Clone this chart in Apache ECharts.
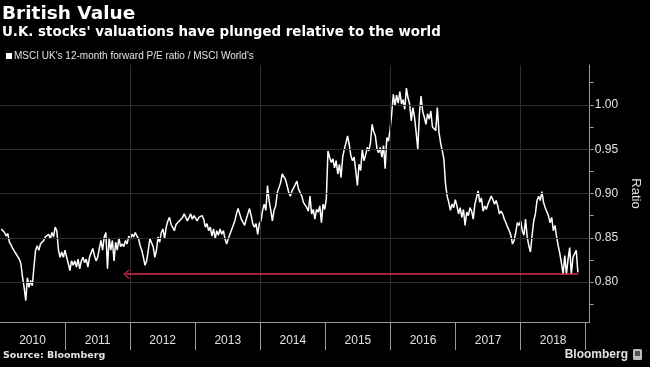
<!DOCTYPE html>
<html>
<head>
<meta charset="utf-8">
<script src="https://cdn.jsdelivr.net/npm/echarts@6/dist/echarts.min.js"></script>
<style>
html,body{margin:0;padding:0;background:#000;}
#c{width:650px;height:367px;}
</style>
</head>
<body>
<div id="c"></div>
<script>
// ---- data ----
const titleText = 'British Value';
const subtitleText = "U.K. stocks' valuations have plunged relative to the world";
const legendText = "MSCI UK's 12-month forward P/E ratio / MSCI World's";
const sourceText = 'Source: Bloomberg';
const axisName = 'Ratio';

const startDate = '2010-01-08';
const endDate = '2018-11-18';

const yearLabels = ['2010','2011','2012','2013','2014','2015','2016','2017','2018'];
const yearBoundaries = [2011,2012,2013,2014,2015,2016,2017,2018,2019];
const verticalGrid = [2012,2014,2016,2018];
const yTickLabels = [0.80,0.85,0.90,0.95,1.00];
const yMinorTicks = [0.775,0.80,0.825,0.85,0.875,0.90,0.925,0.95,0.975,1.00,1.025];

// arrow annotation (lowest level marker)
const arrowLevel = 0.809;
const arrowFrom = '2011-12-10';
const arrowTo = '2018-11-18';

// ratio values, evenly spaced in time from startDate to endDate
const ratioSeg1 = [0.860,0.858,0.856,0.852,0.855,0.845,0.842,0.838,0.835,0.832,
0.830,0.826,0.821,0.806,0.794,0.779,0.805,0.794,0.802,0.796,
0.817,0.836,0.841,0.836,0.843,0.844,0.847,0.851,0.850,0.854,
0.849,0.856,0.851,0.862,0.858,0.836,0.828,0.834,0.828,0.836,
0.828,0.821,0.813,0.824,0.819,0.824,0.817,0.826,0.815,0.824,
0.828,0.822,0.826,0.817,0.828,0.833,0.838,0.830,0.824];
const ratioSeg2 = [0.828,0.838,0.847,0.836,0.851,0.856,0.815,0.850,0.836,0.847,
0.824,0.845,0.836,0.850,0.840,0.843,0.840,0.847,0.843,0.852,
0.849,0.854,0.851,0.856,0.852,0.849,0.841,0.836,0.828,0.819,
0.824,0.836,0.849,0.851,0.840,0.828,0.836,0.851,0.845,0.856,
0.860,0.849,0.862,0.869,0.873,0.865,0.866,0.858,0.865,0.863,
0.869,0.871,0.873,0.877,0.879,0.869,0.873,0.877,0.871,0.875];
const ratioSeg3 = [0.873,0.869,0.873,0.871,0.875,0.871,0.862,0.866,0.858,0.862,
0.852,0.860,0.849,0.858,0.853,0.860,0.854,0.858,0.849,0.843,
0.849,0.854,0.854,0.864,0.869,0.877,0.883,0.877,0.871,0.873,
0.864,0.871,0.877,0.883,0.875,0.866,0.862,0.866,0.854,0.866,
0.869,0.881,0.888,0.881,0.909,0.892,0.881,0.869,0.881,0.886,
0.901,0.900,0.912,0.922,0.924,0.916,0.909,0.901,0.897,0.903];
const ratioSeg4 = [0.903,0.910,0.914,0.905,0.901,0.897,0.890,0.892,0.884,0.880,
0.897,0.877,0.882,0.871,0.882,0.879,0.886,0.867,0.888,0.882,
0.894,0.948,0.941,0.935,0.939,0.929,0.937,0.922,0.933,0.918,
0.941,0.950,0.957,0.965,0.955,0.943,0.937,0.941,0.926,0.909,
0.933,0.926,0.950,0.937,0.943,0.952,0.948,0.957,0.978,0.970,
0.965,0.950,0.946,0.952,0.941,0.954,0.928,0.963,0.959,0.972];
const ratioSeg5 = [0.990,1.012,0.999,1.011,1.002,1.015,1.001,1.006,0.995,1.019,
1.008,1.001,0.982,0.997,0.986,0.969,0.950,0.990,1.010,0.993,
0.986,0.978,0.990,0.984,0.993,0.975,0.976,0.971,0.997,0.969,
0.957,0.948,0.939,0.911,0.897,0.890,0.881,0.888,0.884,0.893,
0.886,0.877,0.884,0.873,0.882,0.864,0.879,0.875,0.884,0.880,
0.871,0.888,0.890,0.903,0.890,0.895,0.880,0.886,0.882,0.888];
const ratioSeg6 = [0.890,0.897,0.893,0.888,0.892,0.886,0.877,0.880,0.877,0.871,
0.867,0.862,0.858,0.853,0.843,0.847,0.856,0.867,0.864,0.869,
0.858,0.853,0.871,0.851,0.841,0.834,0.853,0.869,0.877,0.892,
0.897,0.892,0.902,0.890,0.884,0.886,0.875,0.867,0.873,0.858,
0.864,0.851,0.841,0.832,0.821,0.809,0.830,0.809,0.826,0.839,
0.809,0.828,0.826,0.836,0.811];

// ---- build ----
const ratio = [].concat(ratioSeg1, ratioSeg2, ratioSeg3, ratioSeg4, ratioSeg5, ratioSeg6);
function decYear(t){
  const d = new Date(t);
  const y = d.getUTCFullYear();
  const a = Date.UTC(y,0,1), b = Date.UTC(y+1,0,1);
  return y + (t - a)/(b - a);
}
const t0 = Date.parse(startDate + 'T00:00:00Z');
const t1 = Date.parse(endDate + 'T00:00:00Z');
const seriesData = ratio.map((v,i)=>[decYear(t0 + (t1 - t0)*i/(ratio.length-1)), v]);
const arrowX0 = decYear(Date.parse(arrowFrom + 'T00:00:00Z'));
const arrowX1 = decYear(Date.parse(arrowTo + 'T00:00:00Z'));
const yearMid = yearLabels.map(s => +s + 0.5);

const gridColor = '#2f2f2f';
const axisColor = '#9a9a9a';
const textColor = '#e2e2e2';
const tickFont = '"Liberation Sans", Arial, sans-serif';
const boldFont = '"DejaVu Sans", Verdana, sans-serif';

const chart = echarts.init(document.getElementById('c'), null, {renderer:'canvas'});
chart.setOption({
  backgroundColor: '#000000',
  animation: false,
  grid: {left: 0, right: 48, top: 65, bottom: 45, containLabel: false},
  xAxis: {
    type: 'value', min: 2010, max: 2019.062,
    axisLine: {show: true, lineStyle: {color: axisColor, width: 1}},
    axisTick: {show: true, customValues: yearBoundaries, length: 28, lineStyle: {color: axisColor}},
    axisLabel: {show: true, customValues: yearMid, formatter: v => String(Math.floor(v)),
      color: textColor, fontFamily: tickFont, fontSize: 12, margin: 13},
    splitLine: {show: false}
  },
  yAxis: {
    type: 'value', min: 0.755, max: 1.045, position: 'right',
    name: axisName, nameLocation: 'middle', nameRotate: -90, nameGap: 31,
    nameTextStyle: {color: textColor, fontFamily: tickFont, fontSize: 13},
    axisLine: {show: true, lineStyle: {color: axisColor, width: 1}},
    axisTick: {show: true, customValues: yMinorTicks, length: 4, lineStyle: {color: axisColor}},
    axisLabel: {show: true, customValues: yTickLabels, formatter: v => v.toFixed(2),
      color: textColor, fontFamily: tickFont, fontSize: 12, margin: 5},
    splitLine: {show: false}
  },
  series: [
    {
      type: 'line', data: [], z: 1, silent: true,
      markLine: {
        silent: true, symbol: 'none', animation: false,
        label: {show: false},
        lineStyle: {color: gridColor, width: 1, type: 'solid'},
        data: yTickLabels.map(v => ({yAxis: v})).concat(verticalGrid.map(v => ({xAxis: v})))
      }
    },
    {
      type: 'line', data: seriesData, z: 3, showSymbol: false, symbol: 'none',
      lineStyle: {color: '#ffffff', width: 1.5},
      markLine: {
        silent: true, animation: false, label: {show: false},
        lineStyle: {color: '#d8314f', width: 1.6, type: 'solid'},
        data: [[
          {coord: [arrowX0, arrowLevel], symbol: 'path://M0,10 L5,0 L10,10 L8.6,10 L5,2.6 L1.4,10 Z', symbolSize: [10, 6]},
          {coord: [arrowX1, arrowLevel], symbol: 'none'}
        ]]
      }
    }
  ],
  graphic: [
    {type:'text', x: 2, y: 14, silent: true,
     style:{text: titleText, fill:'#ffffff', font:'bold 18.5px ' + boldFont, align:'left', verticalAlign:'middle', textAlign:'left', textVerticalAlign:'middle'}},
    {type:'text', x: 2, y: 32.5, silent: true,
     style:{text: subtitleText, fill:'#ffffff', font:'bold 13.4px ' + boldFont, align:'left', verticalAlign:'middle', textAlign:'left', textVerticalAlign:'middle'}},
    {type:'rect', x: 6, y: 53, silent: true, shape:{width:6, height:6}, style:{fill:'#ffffff'}},
    {type:'text', x: 14, y: 56.3, silent: true,
     style:{text: legendText, fill: textColor, font:'10px ' + tickFont, align:'left', verticalAlign:'middle', textAlign:'left', textVerticalAlign:'middle'}},
    {type:'text', x: 3, y: 356, silent: true,
     style:{text: sourceText, fill: textColor, font:'bold 9.5px ' + boldFont, align:'left', verticalAlign:'middle', textAlign:'left', textVerticalAlign:'middle'}},
    {type:'text', x: 628, y: 355, silent: true,
     style:{text: 'Bloomberg', fill: textColor, font:'bold 12px ' + tickFont, align:'right', verticalAlign:'middle', textAlign:'right', textVerticalAlign:'middle'}},
    {type:'rect', x: 633, y: 349, silent: true, shape:{width:9, height:11, r:1.5}, style:{fill:'#bdbdbd'}},
    {type:'rect', x: 635, y: 351, silent: true, shape:{width:5, height:5}, style:{fill:'#555555'}}
  ]
});
</script>
</body>
</html>
